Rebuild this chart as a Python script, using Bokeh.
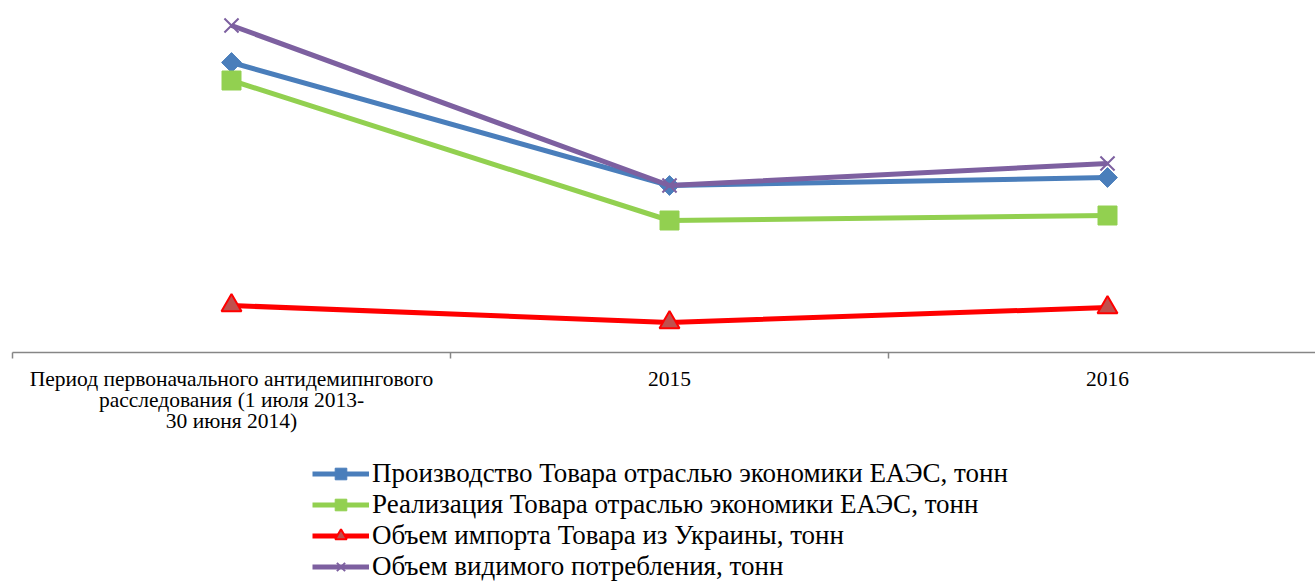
import math
from bokeh.plotting import figure
from bokeh.layouts import column
from bokeh.models import Range1d, FixedTicker, Legend, LegendItem
from bokeh.embed import file_html
from bokeh.resources import INLINE

# ---- data (thousand tonnes) ----
categories = [
    "Период первоначального антидемипнгового\nрасследования (1 июля 2013-\n30 июня 2014)",
    "2015",
    "2016",
]
production = [29.0, 16.7, 17.5]
sales = [27.2, 13.2, 13.7]
imports_ua = [4.7, 3.0, 4.5]
consumption = [32.7, 16.7, 18.9]
series_labels = [
    "Производство Товара отраслью экономики ЕАЭС, тонн",
    "Реализация Товара отраслью экономики ЕАЭС, тонн",
    "Объем импорта Товара из Украины, тонн",
    "Объем видимого потребления, тонн",
]

x = list(range(len(categories)))

BLUE = "#4A7EBB"
GREEN = "#92D050"
RED = "#FF0000"
TRI_FILL = "#C0504D"
PURPLE = "#7D60A0"
SERIF = "Liberation Serif"

styles = [
    dict(color=BLUE, marker="square", angle=math.pi / 4, size=14, fill=BLUE, mline=BLUE, mlw=1),
    dict(color=GREEN, marker="square", angle=0, size=19, fill=GREEN, mline=GREEN, mlw=1),
    dict(color=RED, marker="triangle", angle=0, size=20, fill=TRI_FILL, mline=RED, mlw=2),
    dict(color=PURPLE, marker="x", angle=0, size=20, fill=None, mline=PURPLE, mlw=2),
]
series = [production, sales, imports_ua, consumption]

W = 1315
FRAME_L = 12
TOP = 12
FRAME_H = 340
BOTTOM = 85
H1 = TOP + FRAME_H + BOTTOM
H2 = 583 - H1

# ---------------- main chart ----------------
p = figure(
    width=W, height=H1,
    x_range=Range1d(-0.5, -0.5 + (W - FRAME_L) / 438),
    y_range=Range1d(0, 34.0),
    y_axis_location=None,
    output_backend="svg", toolbar_location=None,
    min_border_left=FRAME_L, min_border_right=0, min_border_top=TOP, min_border_bottom=BOTTOM,
)
p.outline_line_color = None
p.grid.visible = False

ax = p.xaxis[0]
ax.ticker = FixedTicker(ticks=x, minor_ticks=[i - 0.5 for i in range(len(categories) + 1)])
ax.major_label_overrides = {i: c for i, c in enumerate(categories)}
ax.major_tick_line_color = None
ax.major_tick_out = 0
ax.major_tick_in = 0
ax.minor_tick_out = 6
ax.minor_tick_in = 0
ax.minor_tick_line_color = "#868686"
ax.minor_tick_line_width = 1.5
ax.axis_line_color = "#868686"
ax.axis_line_width = 1.5
ax.major_label_text_font = SERIF
ax.major_label_text_font_size = "21.5px"
ax.major_label_text_color = "#000000"
ax.major_label_text_line_height = 0.89
ax.major_label_standoff = 8

for vals, st in zip(series, styles):
    p.line(x, vals, line_width=5, line_color=st["color"])
    p.scatter(x, vals, marker=st["marker"], angle=st["angle"], size=st["size"],
              fill_color=st["fill"], line_color=st["mline"], line_width=st["mlw"])

# ---------------- legend strip (same series, ranges set away from the data) ----------------
p2 = figure(
    width=W, height=H2,
    x_range=Range1d(-20, -19), y_range=Range1d(-20, -19),
    x_axis_location=None, y_axis_location=None,
    output_backend="svg", toolbar_location=None,
    min_border=0,
)
p2.outline_line_color = None
p2.grid.visible = False

items = []
for lab, vals, st in zip(series_labels, series, styles):
    ln = p2.line(x, vals, line_width=5, line_color=st["color"])
    mk = p2.scatter(x, vals, marker=st["marker"], angle=st["angle"], size=st["size"],
                    fill_color=st["fill"], line_color=st["mline"], line_width=st["mlw"])
    items.append(LegendItem(label=lab, renderers=[ln, mk]))

legend = Legend(
    items=items, location=(300, 1), orientation="vertical",
    label_text_font=SERIF, label_text_font_size="27px", label_text_color="#000000",
    label_text_line_height=1.0,
    label_height=29, glyph_height=29, glyph_width=57, label_standoff=3,
    spacing=0, padding=0, margin=0,
    border_line_color=None, background_fill_alpha=0,
)
p2.add_layout(legend, "center")

layout = column(p, p2, spacing=0)
open("out.html", "w").write(file_html(layout, INLINE))
